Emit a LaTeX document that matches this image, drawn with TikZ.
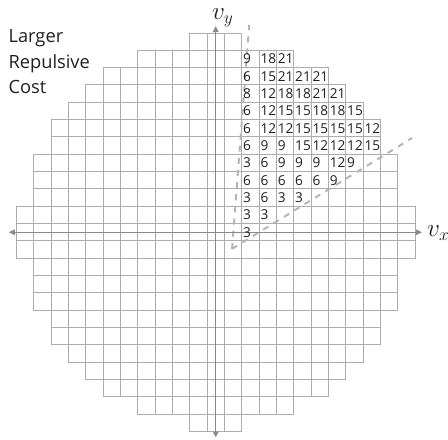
\documentclass[tikz,border=0pt]{standalone}
\usepackage{fontspec}
\newfontfamily\opensans{Open Sans}
\usetikzlibrary{arrows.meta}

\definecolor{gridgray}{HTML}{ADADAD}
\definecolor{axisgray}{HTML}{8A8A8A}
\definecolor{dashgray}{HTML}{B4B4B4}
\definecolor{inkblack}{HTML}{231F20}

\begin{document}
\begin{tikzpicture}[
    x=0.5cm, y=0.5cm,
    % Styles
    cell/.style={
        draw=gridgray, line width=0.7pt
    },
    axis/.style={
        draw=axisgray, line width=1.2pt,
        {Triangle[length=5pt, width=4.5pt]}-{Triangle[length=5pt, width=4.5pt]}
    },
    guide/.style={
        draw=dashgray, line width=1.6pt, dash pattern=on 5pt off 5pt
    },
    cost/.style={
        anchor=west, inner xsep=1pt, inner ysep=0pt,
        font=\opensans\fontsize{11.2}{12}\selectfont, text=inkblack
    },
    axlabel/.style={
        anchor=base west, inner sep=0pt, font=\huge, text=inkblack
    },
    caption/.style={
        anchor=north west, inner sep=0pt, align=left,
        font=\opensans\fontsize{15}{21}\selectfont, text=inkblack
    }
]
\useasboundingbox (-12.45,-11.98) rectangle (13.40,13.40);

% ── Velocity grid (discretised disk) ────────────────────────────────────────
\foreach \i in {-11,...,11}
  \foreach \j in {-11,...,11}{
    \pgfmathtruncatemacro{\rr}{\i*\i+\j*\j}
    \ifnum\rr<124 \draw[cell] (\i-0.5,\j-0.5) rectangle ++(1,1); \fi
  }

% ── Guide lines ─────────────────────────────────────────────────────────────
\coordinate (gorigin) at (0.94,-0.96);
\coordinate (gupper) at (1.93,11.96);
\coordinate (glower) at (11.33,5.44);
\draw[guide] (gorigin) -- (gupper);
\draw[guide] (gorigin) -- (glower);

% ── Axes ────────────────────────────────────────────────────────────────────
\coordinate (xleft) at (-11.95,0);
\coordinate (xright) at (11.9,0);
\coordinate (ybottom) at (0,-11.85);
\coordinate (ytop) at (0,11.9);
\draw[axis] (xleft) -- (xright);
\draw[axis] (ybottom) -- (ytop);

\node[axlabel] (vx) at (12.18,-0.25) {$v_x$};
\node[axlabel] (vy) at (-0.23,12.25) {$v_y$};

% ── Repulsive costs ─────────────────────────────────────────────────────────
\foreach \j/\costs in {10/{9,18,21}, 9/{6,15,21,21,21}, 8/{8,12,18,18,21,21},
    7/{6,12,15,15,18,18,15}, 6/{6,12,12,15,15,15,15,12}, 5/{6,9,9,15,12,12,12,15},
    4/{3,6,9,9,9,12,9}, 3/{6,6,6,6,6,9}, 2/{3,6,3,3}, 1/{3,3}, 0/{3}}{
  \foreach \c [count=\k from 2] in \costs
    \node[cost] (cost-\k-\j) at (\k-0.5,\j) {\c};
}

% ── Caption ─────────────────────────────────────────────────────────────────
\node[caption] (larger) at (-11.97,11.71) {Larger\\Repulsive\\Cost};

\end{tikzpicture}
\end{document}
